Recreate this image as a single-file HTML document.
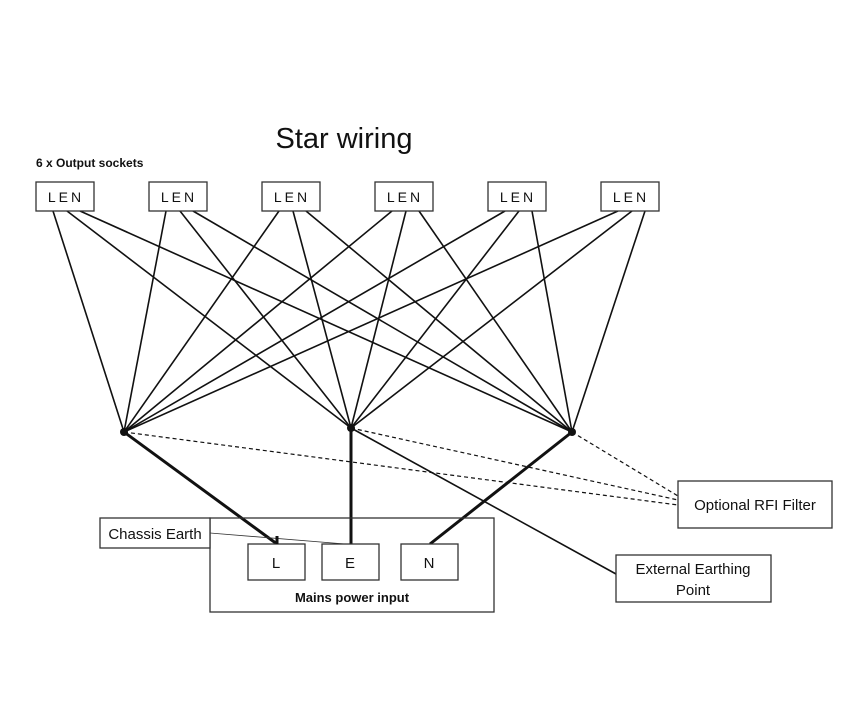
<!DOCTYPE html>
<html><head><style>
body{margin:0;background:#fff;}
svg{display:block;font-family:"Liberation Sans",Calibri,sans-serif;}
</style></head><body>
<svg width="859" height="728" viewBox="0 0 859 728" xmlns="http://www.w3.org/2000/svg">
<text x="344" y="148" font-size="29" text-anchor="middle" fill="#111">Star wiring</text>
<text x="36" y="167" font-size="12" font-weight="bold" fill="#111">6 x Output sockets</text>
<g stroke="#111" stroke-width="1.6" fill="none">
<!-- socket wires -->
<g id="w">
</g>
</g>
<g stroke="#111" stroke-width="1.6">
<line x1="53" y1="211" x2="124" y2="432"/><line x1="67" y1="211" x2="351" y2="428"/><line x1="80" y1="211" x2="572" y2="432"/>
<line x1="166" y1="211" x2="124" y2="432"/><line x1="180" y1="211" x2="351" y2="428"/><line x1="193" y1="211" x2="572" y2="432"/>
<line x1="279" y1="211" x2="124" y2="432"/><line x1="293" y1="211" x2="351" y2="428"/><line x1="306" y1="211" x2="572" y2="432"/>
<line x1="392" y1="211" x2="124" y2="432"/><line x1="406" y1="211" x2="351" y2="428"/><line x1="419" y1="211" x2="572" y2="432"/>
<line x1="505" y1="211" x2="124" y2="432"/><line x1="519" y1="211" x2="351" y2="428"/><line x1="532" y1="211" x2="572" y2="432"/>
<line x1="618" y1="211" x2="124" y2="432"/><line x1="632" y1="211" x2="351" y2="428"/><line x1="645" y1="211" x2="572" y2="432"/>
</g>
<g stroke="#111" stroke-width="1.2" stroke-dasharray="4,3">
<line x1="124" y1="432" x2="678" y2="505"/><line x1="351" y1="428" x2="678" y2="500"/><line x1="572" y1="432" x2="678" y2="496"/>
</g>
<g stroke="#111" stroke-width="3">
<line x1="124" y1="432" x2="277" y2="544"/><line x1="351" y1="428" x2="351" y2="544"/><line x1="572" y1="432" x2="430" y2="544"/>
</g>
<line x1="351" y1="428" x2="616" y2="574" stroke="#111" stroke-width="1.6"/>
<g fill="#111"><circle cx="124" cy="432" r="4"/><circle cx="351" cy="428" r="4"/><circle cx="572" cy="432" r="4"/></g>
<g fill="#fff" stroke="#333" stroke-width="1.3">
<rect x="36" y="182" width="58" height="29"/><rect x="149" y="182" width="58" height="29"/><rect x="262" y="182" width="58" height="29"/>
<rect x="375" y="182" width="58" height="29"/><rect x="488" y="182" width="58" height="29"/><rect x="601" y="182" width="58" height="29"/>
<rect x="210" y="518" width="284" height="94" fill="none"/>
<rect x="100" y="518" width="110" height="30"/>
<rect x="248" y="544" width="57" height="36"/><rect x="322" y="544" width="57" height="36"/><rect x="401" y="544" width="57" height="36"/>
<rect x="678" y="481" width="154" height="47"/>
<rect x="616" y="555" width="155" height="47"/>
</g>
<line x1="210" y1="533" x2="345" y2="544" stroke="#333" stroke-width="0.8"/>
<line x1="277" y1="536" x2="277" y2="544" stroke="#111" stroke-width="3"/>
<g font-size="14" fill="#111" text-anchor="middle" letter-spacing="3">
<text x="66" y="202">LEN</text><text x="179" y="202">LEN</text><text x="292" y="202">LEN</text>
<text x="405" y="202">LEN</text><text x="518" y="202">LEN</text><text x="631" y="202">LEN</text>
</g>
<g font-size="15" fill="#111" text-anchor="middle">
<text x="276" y="568">L</text><text x="350" y="568">E</text><text x="429" y="568">N</text>
<text x="155" y="539">Chassis Earth</text>
<text x="755" y="510">Optional RFI Filter</text>
<text x="693" y="574">External Earthing</text>
<text x="693" y="595">Point</text>
<text x="352" y="602" font-size="13" font-weight="bold">Mains power input</text>
</g>
</svg>
</body></html>
